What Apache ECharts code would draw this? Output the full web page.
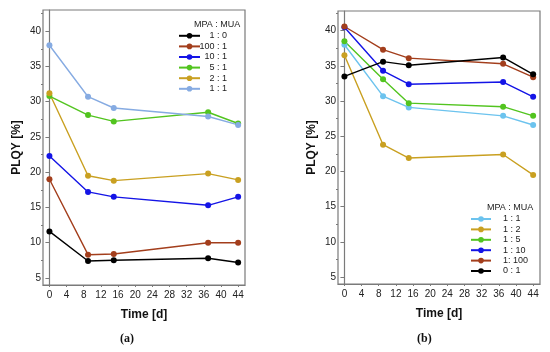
<!DOCTYPE html>
<html><head><meta charset="utf-8">
<script src="https://cdn.jsdelivr.net/npm/echarts@6/dist/echarts.min.js"></script>
<style>html,body{margin:0;padding:0;background:#fff}#c{width:550px;height:352px}</style>
</head><body><div id="c"></div>
<script>
// ---- data ----
const times = [0, 9, 15, 37, 44];
const xTickLabels = [0, 4, 8, 12, 16, 20, 24, 28, 32, 36, 40, 44];
const yTickLabels = [5, 10, 15, 20, 25, 30, 35, 40];
const yMinorTicks = [7.5, 12.5, 17.5, 22.5, 27.5, 32.5, 37.5, 42.5];

// panel (a)
const namesA = ['1 : 0', '100 : 1', '10 : 1', '5 : 1', '2 : 1', '1 : 1'];
const a_1_0   = [11.6, 7.4, 7.5, 7.8, 7.2];
const a_100_1 = [19.0, 8.3, 8.4, 10.0, 10.0];
const a_10_1  = [22.3, 17.2, 16.5, 15.3, 16.5];
const a_5_1   = [30.8, 28.1, 27.2, 28.5, 26.9];
const a_2_1   = [31.2, 19.5, 18.8, 19.8, 18.9];
const a_1_1   = [38.0, 30.7, 29.1, 27.9, 26.7];
const valuesA = [a_1_0, a_100_1, a_10_1, a_5_1, a_2_1, a_1_1];
const colorsA = ['#000000', '#a33e1c', '#1414e6', '#52c41f', '#c9a021', '#86abe2'];

// panel (b)
const namesB = ['1 : 1', '1 : 2', '1 : 5', '1 : 10', '1: 100', '0 : 1'];
const b_1_1   = [38.0, 30.7, 29.1, 27.9, 26.6];
const b_1_2   = [36.5, 23.8, 21.9, 22.4, 19.5];
const b_1_5   = [38.5, 33.1, 29.7, 29.2, 27.9];
const b_1_10  = [40.5, 34.3, 32.4, 32.7, 30.6];
const b_1_100 = [40.6, 37.3, 36.1, 35.3, 33.4];
const b_0_1   = [33.5, 35.6, 35.1, 36.2, 33.8];
const valuesB = [b_1_1, b_1_2, b_1_5, b_1_10, b_1_100, b_0_1];
const colorsB = ['#6cc3ee', '#c9a021', '#52c41f', '#1414e6', '#a33e1c', '#000000'];

// ---- chart ----
const axisGray = '#7a7a7a';
const fontFam = 'Liberation Sans, Arial, sans-serif';

function xAxis(gi) {
  return {
    type: 'value', gridIndex: gi, min: -1.5, max: 45.6,
    name: 'Time [d]', nameLocation: 'middle', nameGap: 24,
    nameTextStyle: {fontFamily: fontFam, fontWeight: 'bold', fontSize: 12, color: '#111'},
    axisLine: {show: true, lineStyle: {color: axisGray, width: 1.2}},
    axisTick: {show: true, length: 2, lineStyle: {color: axisGray}, customValues: xTickLabels},
    axisLabel: {fontFamily: fontFam, fontSize: 10, color: '#222', margin: 5, customValues: xTickLabels},
    splitLine: {show: false}
  };
}
function yAxis(gi, max) {
  return {
    type: 'value', gridIndex: gi, min: 4, max: max,
    name: 'PLQY [%]', nameLocation: 'middle', nameGap: 20,
    nameTextStyle: {fontFamily: fontFam, fontWeight: 'bold', fontSize: 12, color: '#111'},
    axisLine: {show: true, lineStyle: {color: axisGray, width: 1.2}},
    axisTick: {show: true, length: 4, lineStyle: {color: axisGray}, customValues: yTickLabels},
    axisLabel: {fontFamily: fontFam, fontSize: 10, color: '#222', margin: 2, customValues: yTickLabels},
    splitLine: {show: false}
  };
}
function yMinor(gi, max) {
  return {
    type: 'value', gridIndex: gi, min: 4, max: max, position: 'left',
    axisLine: {show: false},
    axisTick: {show: true, length: 2, lineStyle: {color: axisGray}, customValues: yMinorTicks},
    axisLabel: {show: false},
    splitLine: {show: false}
  };
}

const series = [];
namesA.forEach((n, i) => {
  series.push({
    name: n, type: 'line', xAxisIndex: 0, yAxisIndex: 0,
    data: times.map((t, j) => [t, valuesA[i][j]]),
    symbol: 'circle', symbolSize: 6,
    itemStyle: {color: colorsA[i]}, lineStyle: {color: colorsA[i], width: 1.4}
  });
});
namesB.forEach((n, i) => {
  series.push({
    name: n + ' ', type: 'line', xAxisIndex: 1, yAxisIndex: 2,
    data: times.map((t, j) => [t, valuesB[i][j]]),
    symbol: 'circle', symbolSize: 6,
    itemStyle: {color: colorsB[i]}, lineStyle: {color: colorsB[i], width: 1.4}
  });
});

const chart = echarts.init(document.getElementById('c'), null, {renderer: 'canvas'});
chart.setOption({
  animation: false,
  backgroundColor: '#fff',
  grid: [
    {left: 43, top: 10, width: 202, height: 275, show: true, borderColor: axisGray, borderWidth: 1.2, backgroundColor: 'transparent'},
    {left: 338, top: 11, width: 202, height: 273, show: true, borderColor: axisGray, borderWidth: 1.2, backgroundColor: 'transparent'}
  ],
  xAxis: [xAxis(0), xAxis(1)],
  yAxis: [yAxis(0, 43), yMinor(0, 43), yAxis(1, 42.8), yMinor(1, 42.8)],
  legend: [
    {
      data: namesA, orient: 'vertical', left: 178, top: 31.3, padding: 0,
      itemWidth: 21, itemHeight: 7, itemGap: 1.6,
      formatter: '{r|{name}}',
      textStyle: {fontFamily: fontFam, fontSize: 9, color: '#222',
        rich: {r: {width: 22, align: 'right', fontFamily: fontFam, fontSize: 9, color: '#222'}}}
    },
    {
      data: namesB.map(n => n + ' '), orient: 'vertical', left: 470, top: 214.5, padding: 0,
      itemWidth: 20, itemHeight: 7, itemGap: 1.4,
      textStyle: {fontFamily: fontFam, fontSize: 9, color: '#222', padding: [0, 0, 0, 7]}
    }
  ],
  graphic: [
    {type: 'text', left: 194, top: 20, style: {text: 'MPA : MUA', font: '9px ' + fontFam, fill: '#222'}},
    {type: 'text', left: 487, top: 203, style: {text: 'MPA : MUA', font: '9px ' + fontFam, fill: '#222'}},
    {type: 'text', left: 120, top: 333, style: {text: '(a)', font: 'bold 12px Liberation Serif, serif', fill: '#111'}},
    {type: 'text', left: 417, top: 333, style: {text: '(b)', font: 'bold 12px Liberation Serif, serif', fill: '#111'}}
  ],
  series: series
});
</script></body></html>
